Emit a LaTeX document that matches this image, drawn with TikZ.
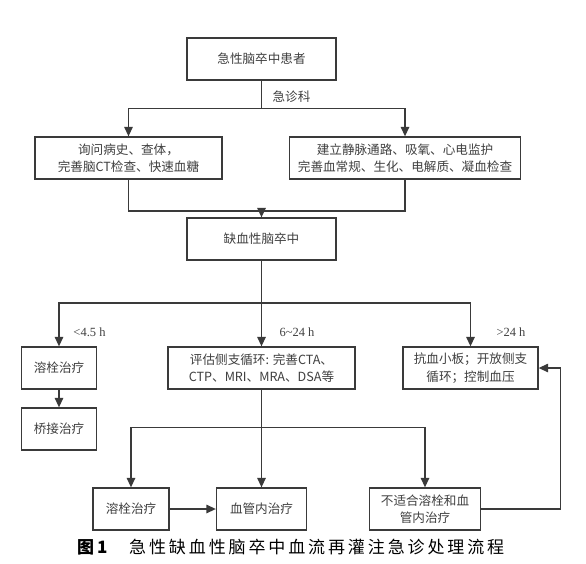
\documentclass[tikz,border=0pt]{standalone}
\usepackage{fontspec}
\setmainfont{Liberation Serif}
\newfontfamily\cjk{Noto Sans CJK SC}
\newfontfamily\capfont[LetterSpace=17]{Noto Sans CJK SC}
\usetikzlibrary{arrows.meta}
\definecolor{ln}{HTML}{3A3A3A}
\definecolor{tx}{HTML}{404040}
\begin{document}
\begin{tikzpicture}[x=1pt,y=-1pt,
  box/.style={draw=ln,line width=1.3pt,inner sep=0pt,align=center,text=tx,
    font=\cjk\fontsize{12.6}{17.5}\selectfont},
  conn/.style={draw=ln,line width=1.3pt},
  arr/.style={conn,-{Triangle[length=9.5pt,width=8.5pt]}},
  lab/.style={text=tx,inner sep=0pt}]
\useasboundingbox (0,0) rectangle (586,563);
\fill[white] (0,0) rectangle (586,563);
% boxes
\node[box,minimum width=149pt,minimum height=42pt] (top) at (261.5,59) {急性脑卒中患者};
\node[box,minimum width=187pt,minimum height=42pt] (L1) at (128.5,158) {询问病史、查体，\\完善脑CT检查、快速血糖};
\node[box,minimum width=231pt,minimum height=42pt] (R1) at (405,158) {建立静脉通路、吸氧、心电监护\\完善血常规、生化、电解质、凝血检查};
\node[box,minimum width=149pt,minimum height=42pt] (isch) at (261.5,239) {缺血性脑卒中};
\node[box,minimum width=75pt,minimum height=42pt] (thr) at (59,368) {溶栓治疗};
\node[box,minimum width=187pt,minimum height=42pt] (eval) at (261.5,368) {评估侧支循环: 完善CTA、\\CTP、MRI、MRA、DSA等};
\node[box,minimum width=135pt,minimum height=42pt] (anti) at (470.5,368) {抗血小板；开放侧支\\循环；控制血压};
\node[box,minimum width=75pt,minimum height=42pt] (bri) at (59,429) {桥接治疗};
\node[box,minimum width=76pt,minimum height=42pt] (thr2) at (131,509) {溶栓治疗};
\node[box,minimum width=90pt,minimum height=42pt] (endo) at (261.5,509) {血管内治疗};
\node[box,minimum width=111pt,minimum height=42pt] (unfit) at (425,509) {不适合溶栓和血\\管内治疗};
% junctions
\coordinate (j1) at (261.5,108.5);
\coordinate (j2) at (261.5,211);
\coordinate (j3) at (261.5,303);
\coordinate (j4) at (261.5,427.5);
\coordinate (rc) at (560.5,509);
% connectors
\draw[conn] (top) -- (j1);
\draw[arr] (j1) -| (L1.north);
\draw[arr] (j1) -| (R1.north);
\draw[conn] (L1.south) |- (j2) -| (R1.south);
\draw[arr] (j2) -- (isch.north);
\draw[conn] (isch) -- (j3);
\draw[arr] (j3) -| (thr.north);
\draw[arr] (j3) -- (eval.north);
\draw[arr] (j3) -| (anti.north);
\draw[arr] (thr) -- (bri);
\draw[arr] (eval) -- (endo);
\draw[arr] (j4) -| (thr2.north);
\draw[arr] (j4) -| (unfit.north);
\draw[arr] (thr2) -- (endo);
\draw[conn] (unfit.east) -- (rc);
\draw[arr] (rc) |- (anti.east);
% labels
\node[lab,font=\cjk\fontsize{12.6}{14}\selectfont] (l0) at (291.5,97) {急诊科};
\node[lab,font=\fontsize{12.5}{14}\selectfont] (l1) at (89.5,332) {<4.5 h};
\node[lab,font=\fontsize{12.5}{14}\selectfont] (l2) at (297,332) {6\textasciitilde24 h};
\node[lab,font=\fontsize{12.5}{14}\selectfont] (l3) at (511,332) {>24 h};
% caption
\node[lab,anchor=west,text=black,font=\cjk\bfseries\fontsize{17}{20}\selectfont] (c1) at (77,547) {图\hspace{3pt}1};
\node[lab,anchor=west,text=black,font=\capfont\fontsize{17}{20}\selectfont] (c2) at (129,547) {急性缺血性脑卒中血流再灌注急诊处理流程};
\end{tikzpicture}
\end{document}
